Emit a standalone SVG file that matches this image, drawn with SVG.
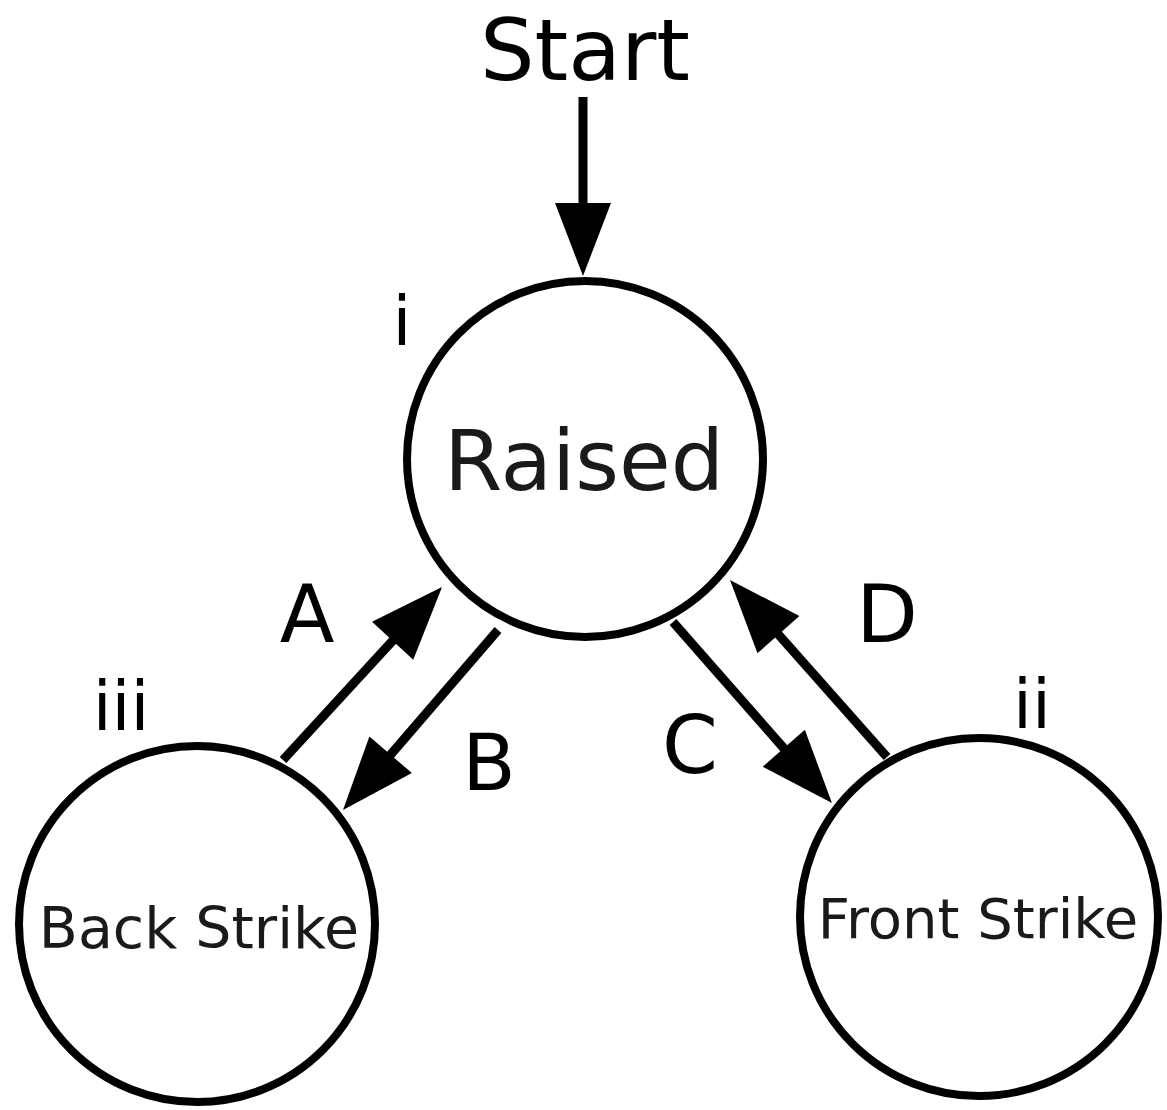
<svg xmlns="http://www.w3.org/2000/svg" width="1167" height="1110" viewBox="0 0 1167 1110">
<style>
.node{fill:#fff;stroke:#000;stroke-width:8}
.edge{fill:none;stroke:#000;stroke-width:9}
.t{font-family:"DejaVu Sans","Liberation Sans",sans-serif;text-anchor:middle;fill:#000}
.nt{fill:#1a1a1a}
</style>
<defs>
<marker id="ah" markerUnits="userSpaceOnUse" viewBox="0 -30 75 60" refX="10" refY="0" markerWidth="75" markerHeight="60" orient="auto" overflow="visible">
<path d="M0,-28 L73,0 L0,28 Z" fill="#000"/>
</marker>
</defs>
<rect width="1167" height="1110" fill="#fff"/>
<g id="connectors">
<line class="edge" x1="583" y1="97" x2="583" y2="213" marker-end="url(#ah)"/>
<line class="edge" x1="283" y1="760" x2="399.4" y2="633.4" marker-end="url(#ah)"/>
<line class="edge" x1="498" y1="630" x2="384.1" y2="762.3" marker-end="url(#ah)"/>
<line class="edge" x1="673" y1="622" x2="790.4" y2="755.7" marker-end="url(#ah)"/>
<line class="edge" x1="887" y1="757" x2="771.8" y2="627.1" marker-end="url(#ah)"/>
</g>
<g id="node-raised">
<circle class="node" cx="585" cy="459" r="178"/>
<text class="t nt" x="584" y="490" font-size="84">Raised</text>
</g>
<g id="node-back">
<circle class="node" cx="197" cy="924" r="178"/>
<text class="t nt" x="199" y="948" font-size="57">Back Strike</text>
</g>
<g id="node-front">
<circle class="node" cx="979" cy="917" r="179"/>
<text class="t nt" x="978" y="938" font-size="56">Front Strike</text>
</g>
<g id="labels">
<text class="t" x="585" y="80" font-size="86">Start</text>
<text class="t" x="402" y="345" font-size="68">i</text>
<text class="t" x="121" y="730" font-size="68">iii</text>
<text class="t" x="1032" y="728" font-size="68">ii</text>
<text class="t" x="307" y="642" font-size="80">A</text>
<text class="t" x="489" y="790" font-size="78">B</text>
<text class="t" x="690" y="773" font-size="80">C</text>
<text class="t" x="887" y="642" font-size="80">D</text>
</g>
</svg>
